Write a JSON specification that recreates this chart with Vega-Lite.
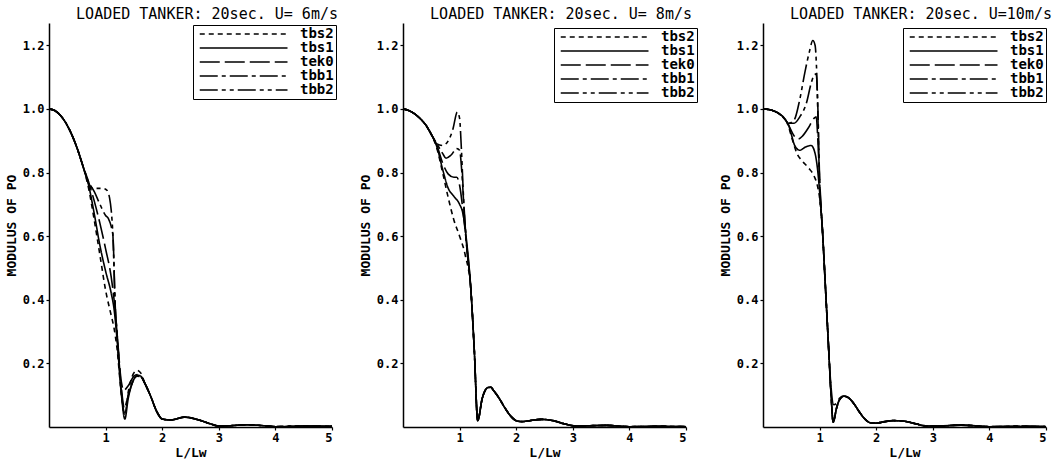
{
  "$schema": "https://vega.github.io/schema/vega-lite/v6.json",
  "background": "white",
  "padding": {"left": 5, "top": 7, "right": 0, "bottom": 0},
  "config": {
    "font": "DejaVu Sans Mono",
    "view": {"stroke": null},
    "axis": {"domainColor": "black", "domainWidth": 1.5, "tickColor": "black", "tickSize": 3, "tickWidth": 1.2, "labelFont": "DejaVu Sans Mono", "labelFontSize": 12, "labelFontWeight": "bold", "labelColor": "black", "titleFont": "DejaVu Sans Mono", "titleFontSize": 13, "titleFontWeight": "bold", "titleColor": "black", "grid": false, "labelPadding": 2},
    "title": {"font": "DejaVu Sans Mono", "fontSize": 15, "fontWeight": "normal", "color": "black", "anchor": "end", "frame": "group", "offset": 1, "dx": 6},
    "legend": {"orient": "none", "title": null, "symbolType": "M-0.5,0H19", "symbolSize": 81, "symbolStrokeWidth": 1.5, "symbolStrokeColor": "black", "symbolFillColor": "transparent", "labelFont": "DejaVu Sans Mono", "labelFontSize": 14, "labelFontWeight": "bold", "labelColor": "black", "labelOffset": 91, "rowPadding": 0, "padding": 2, "strokeColor": "black", "fillColor": "white"}
  },
  "resolve": {"scale": {"strokeDash": "independent"}, "legend": {"strokeDash": "independent"}},
  "spacing": 21,
  "data": {"values": [
    {"p":6,"s":"tbs2","x":0,"y":1.0},{"p":6,"s":"tbs2","x":0.1,"y":0.995},{"p":6,"s":"tbs2","x":0.2,"y":0.98},{"p":6,"s":"tbs2","x":0.3,"y":0.955},{"p":6,"s":"tbs2","x":0.4,"y":0.92},{"p":6,"s":"tbs2","x":0.5,"y":0.875},{"p":6,"s":"tbs2","x":0.6,"y":0.82},
    {"p":6,"s":"tbs2","x":0.7,"y":0.75},{"p":6,"s":"tbs2","x":0.8,"y":0.65},{"p":6,"s":"tbs2","x":0.9,"y":0.54},{"p":6,"s":"tbs2","x":1.0,"y":0.43},{"p":6,"s":"tbs2","x":1.1,"y":0.35},{"p":6,"s":"tbs2","x":1.15,"y":0.31},{"p":6,"s":"tbs2","x":1.2,"y":0.25},{"p":6,"s":"tbs2","x":1.28,"y":0.1},{"p":6,"s":"tbs2","x":1.34,"y":0.04},{"p":6,"s":"tbs2","x":1.4,"y":0.11},{"p":6,"s":"tbs2","x":1.5,"y":0.17},{"p":6,"s":"tbs2","x":1.56,"y":0.178},{"p":6,"s":"tbs2","x":1.62,"y":0.17},
    {"p":6,"s":"tbs2","x":1.7,"y":0.135},{"p":6,"s":"tbs2","x":1.8,"y":0.095},{"p":6,"s":"tbs2","x":1.9,"y":0.05},{"p":6,"s":"tbs2","x":2.0,"y":0.025},{"p":6,"s":"tbs2","x":2.15,"y":0.022},{"p":6,"s":"tbs2","x":2.4,"y":0.031},{"p":6,"s":"tbs2","x":2.65,"y":0.022},{"p":6,"s":"tbs2","x":2.85,"y":0.01},{"p":6,"s":"tbs2","x":3.0,"y":0.003},{"p":6,"s":"tbs2","x":3.2,"y":0.004},{"p":6,"s":"tbs2","x":3.5,"y":0.007},{"p":6,"s":"tbs2","x":3.8,"y":0.004},{"p":6,"s":"tbs2","x":4.0,"y":0.001},{"p":6,"s":"tbs2","x":4.5,"y":0.003},{"p":6,"s":"tbs2","x":5.0,"y":0.002},

    {"p":6,"s":"tbs1","x":0,"y":1.0},{"p":6,"s":"tbs1","x":0.1,"y":0.995},{"p":6,"s":"tbs1","x":0.2,"y":0.98},{"p":6,"s":"tbs1","x":0.3,"y":0.955},{"p":6,"s":"tbs1","x":0.4,"y":0.92},{"p":6,"s":"tbs1","x":0.5,"y":0.875},{"p":6,"s":"tbs1","x":0.6,"y":0.82},
    {"p":6,"s":"tbs1","x":0.7,"y":0.76},{"p":6,"s":"tbs1","x":0.8,"y":0.67},{"p":6,"s":"tbs1","x":0.9,"y":0.57},{"p":6,"s":"tbs1","x":1.0,"y":0.49},{"p":6,"s":"tbs1","x":1.1,"y":0.42},{"p":6,"s":"tbs1","x":1.15,"y":0.37},{"p":6,"s":"tbs1","x":1.2,"y":0.28},{"p":6,"s":"tbs1","x":1.28,"y":0.1},{"p":6,"s":"tbs1","x":1.34,"y":0.025},{"p":6,"s":"tbs1","x":1.4,"y":0.09},{"p":6,"s":"tbs1","x":1.5,"y":0.15},{"p":6,"s":"tbs1","x":1.56,"y":0.163},{"p":6,"s":"tbs1","x":1.62,"y":0.16},
    {"p":6,"s":"tbs1","x":1.7,"y":0.135},{"p":6,"s":"tbs1","x":1.8,"y":0.095},{"p":6,"s":"tbs1","x":1.9,"y":0.05},{"p":6,"s":"tbs1","x":2.0,"y":0.025},{"p":6,"s":"tbs1","x":2.15,"y":0.022},{"p":6,"s":"tbs1","x":2.4,"y":0.031},{"p":6,"s":"tbs1","x":2.65,"y":0.022},{"p":6,"s":"tbs1","x":2.85,"y":0.01},{"p":6,"s":"tbs1","x":3.0,"y":0.003},{"p":6,"s":"tbs1","x":3.2,"y":0.004},{"p":6,"s":"tbs1","x":3.5,"y":0.007},{"p":6,"s":"tbs1","x":3.8,"y":0.004},{"p":6,"s":"tbs1","x":4.0,"y":0.001},{"p":6,"s":"tbs1","x":4.5,"y":0.003},{"p":6,"s":"tbs1","x":5.0,"y":0.002},

    {"p":6,"s":"tek0","x":0,"y":1.0},{"p":6,"s":"tek0","x":0.1,"y":0.995},{"p":6,"s":"tek0","x":0.2,"y":0.98},{"p":6,"s":"tek0","x":0.3,"y":0.955},{"p":6,"s":"tek0","x":0.4,"y":0.92},{"p":6,"s":"tek0","x":0.5,"y":0.875},{"p":6,"s":"tek0","x":0.6,"y":0.82},
    {"p":6,"s":"tek0","x":0.7,"y":0.77},{"p":6,"s":"tek0","x":0.8,"y":0.71},{"p":6,"s":"tek0","x":0.9,"y":0.64},{"p":6,"s":"tek0","x":1.0,"y":0.56},{"p":6,"s":"tek0","x":1.1,"y":0.47},{"p":6,"s":"tek0","x":1.15,"y":0.4},{"p":6,"s":"tek0","x":1.2,"y":0.3},{"p":6,"s":"tek0","x":1.28,"y":0.14},{"p":6,"s":"tek0","x":1.32,"y":0.115},{"p":6,"s":"tek0","x":1.4,"y":0.13},{"p":6,"s":"tek0","x":1.5,"y":0.16},{"p":6,"s":"tek0","x":1.56,"y":0.165},{"p":6,"s":"tek0","x":1.62,"y":0.16},
    {"p":6,"s":"tek0","x":1.7,"y":0.135},{"p":6,"s":"tek0","x":1.8,"y":0.095},{"p":6,"s":"tek0","x":1.9,"y":0.05},{"p":6,"s":"tek0","x":2.0,"y":0.025},{"p":6,"s":"tek0","x":2.15,"y":0.022},{"p":6,"s":"tek0","x":2.4,"y":0.031},{"p":6,"s":"tek0","x":2.65,"y":0.022},{"p":6,"s":"tek0","x":2.85,"y":0.01},{"p":6,"s":"tek0","x":3.0,"y":0.003},{"p":6,"s":"tek0","x":3.2,"y":0.004},{"p":6,"s":"tek0","x":3.5,"y":0.007},{"p":6,"s":"tek0","x":3.8,"y":0.004},{"p":6,"s":"tek0","x":4.0,"y":0.001},{"p":6,"s":"tek0","x":4.5,"y":0.003},{"p":6,"s":"tek0","x":5.0,"y":0.002},

    {"p":6,"s":"tbb1","x":0,"y":1.0},{"p":6,"s":"tbb1","x":0.1,"y":0.995},{"p":6,"s":"tbb1","x":0.2,"y":0.98},{"p":6,"s":"tbb1","x":0.3,"y":0.955},{"p":6,"s":"tbb1","x":0.4,"y":0.92},{"p":6,"s":"tbb1","x":0.5,"y":0.875},{"p":6,"s":"tbb1","x":0.6,"y":0.82},
    {"p":6,"s":"tbb1","x":0.7,"y":0.77},{"p":6,"s":"tbb1","x":0.8,"y":0.74},{"p":6,"s":"tbb1","x":0.9,"y":0.7},{"p":6,"s":"tbb1","x":1.0,"y":0.665},{"p":6,"s":"tbb1","x":1.05,"y":0.655},{"p":6,"s":"tbb1","x":1.1,"y":0.63},{"p":6,"s":"tbb1","x":1.13,"y":0.6},{"p":6,"s":"tbb1","x":1.17,"y":0.38},{"p":6,"s":"tbb1","x":1.2,"y":0.3},{"p":6,"s":"tbb1","x":1.28,"y":0.12},{"p":6,"s":"tbb1","x":1.33,"y":0.06},{"p":6,"s":"tbb1","x":1.4,"y":0.1},{"p":6,"s":"tbb1","x":1.5,"y":0.15},{"p":6,"s":"tbb1","x":1.56,"y":0.16},{"p":6,"s":"tbb1","x":1.62,"y":0.158},
    {"p":6,"s":"tbb1","x":1.7,"y":0.135},{"p":6,"s":"tbb1","x":1.8,"y":0.095},{"p":6,"s":"tbb1","x":1.9,"y":0.05},{"p":6,"s":"tbb1","x":2.0,"y":0.025},{"p":6,"s":"tbb1","x":2.15,"y":0.022},{"p":6,"s":"tbb1","x":2.4,"y":0.031},{"p":6,"s":"tbb1","x":2.65,"y":0.022},{"p":6,"s":"tbb1","x":2.85,"y":0.01},{"p":6,"s":"tbb1","x":3.0,"y":0.003},{"p":6,"s":"tbb1","x":3.2,"y":0.004},{"p":6,"s":"tbb1","x":3.5,"y":0.007},{"p":6,"s":"tbb1","x":3.8,"y":0.004},{"p":6,"s":"tbb1","x":4.0,"y":0.001},{"p":6,"s":"tbb1","x":4.5,"y":0.003},{"p":6,"s":"tbb1","x":5.0,"y":0.002},

    {"p":6,"s":"tbb2","x":0,"y":1.0},{"p":6,"s":"tbb2","x":0.1,"y":0.995},{"p":6,"s":"tbb2","x":0.2,"y":0.98},{"p":6,"s":"tbb2","x":0.3,"y":0.955},{"p":6,"s":"tbb2","x":0.4,"y":0.92},{"p":6,"s":"tbb2","x":0.5,"y":0.875},{"p":6,"s":"tbb2","x":0.6,"y":0.82},
    {"p":6,"s":"tbb2","x":0.7,"y":0.765},{"p":6,"s":"tbb2","x":0.75,"y":0.752},{"p":6,"s":"tbb2","x":0.85,"y":0.75},{"p":6,"s":"tbb2","x":0.95,"y":0.75},{"p":6,"s":"tbb2","x":1.02,"y":0.745},{"p":6,"s":"tbb2","x":1.07,"y":0.72},{"p":6,"s":"tbb2","x":1.1,"y":0.68},{"p":6,"s":"tbb2","x":1.13,"y":0.6},{"p":6,"s":"tbb2","x":1.17,"y":0.38},{"p":6,"s":"tbb2","x":1.2,"y":0.3},{"p":6,"s":"tbb2","x":1.28,"y":0.11},{"p":6,"s":"tbb2","x":1.33,"y":0.04},{"p":6,"s":"tbb2","x":1.4,"y":0.1},{"p":6,"s":"tbb2","x":1.5,"y":0.15},{"p":6,"s":"tbb2","x":1.56,"y":0.162},{"p":6,"s":"tbb2","x":1.62,"y":0.158},
    {"p":6,"s":"tbb2","x":1.7,"y":0.135},{"p":6,"s":"tbb2","x":1.8,"y":0.095},{"p":6,"s":"tbb2","x":1.9,"y":0.05},{"p":6,"s":"tbb2","x":2.0,"y":0.025},{"p":6,"s":"tbb2","x":2.15,"y":0.022},{"p":6,"s":"tbb2","x":2.4,"y":0.031},{"p":6,"s":"tbb2","x":2.65,"y":0.022},{"p":6,"s":"tbb2","x":2.85,"y":0.01},{"p":6,"s":"tbb2","x":3.0,"y":0.003},{"p":6,"s":"tbb2","x":3.2,"y":0.004},{"p":6,"s":"tbb2","x":3.5,"y":0.007},{"p":6,"s":"tbb2","x":3.8,"y":0.004},{"p":6,"s":"tbb2","x":4.0,"y":0.001},{"p":6,"s":"tbb2","x":4.5,"y":0.003},{"p":6,"s":"tbb2","x":5.0,"y":0.002},

    {"p":8,"s":"tbs2","x":0,"y":1.0},{"p":8,"s":"tbs2","x":0.1,"y":0.995},{"p":8,"s":"tbs2","x":0.2,"y":0.985},{"p":8,"s":"tbs2","x":0.3,"y":0.97},{"p":8,"s":"tbs2","x":0.4,"y":0.95},{"p":8,"s":"tbs2","x":0.5,"y":0.92},
    {"p":8,"s":"tbs2","x":0.6,"y":0.875},{"p":8,"s":"tbs2","x":0.7,"y":0.8},{"p":8,"s":"tbs2","x":0.8,"y":0.72},{"p":8,"s":"tbs2","x":0.9,"y":0.65},{"p":8,"s":"tbs2","x":1.0,"y":0.6},{"p":8,"s":"tbs2","x":1.1,"y":0.54},{"p":8,"s":"tbs2","x":1.2,"y":0.43},{"p":8,"s":"tbs2","x":1.26,"y":0.24},
    {"p":8,"s":"tbs2","x":1.32,"y":0.02},{"p":8,"s":"tbs2","x":1.4,"y":0.09},{"p":8,"s":"tbs2","x":1.5,"y":0.124},{"p":8,"s":"tbs2","x":1.55,"y":0.125},{"p":8,"s":"tbs2","x":1.6,"y":0.115},{"p":8,"s":"tbs2","x":1.7,"y":0.09},{"p":8,"s":"tbs2","x":1.8,"y":0.06},{"p":8,"s":"tbs2","x":1.9,"y":0.035},{"p":8,"s":"tbs2","x":2.0,"y":0.02},{"p":8,"s":"tbs2","x":2.1,"y":0.017},{"p":8,"s":"tbs2","x":2.2,"y":0.019},{"p":8,"s":"tbs2","x":2.45,"y":0.024},{"p":8,"s":"tbs2","x":2.65,"y":0.02},{"p":8,"s":"tbs2","x":2.85,"y":0.01},{"p":8,"s":"tbs2","x":3.05,"y":0.003},{"p":8,"s":"tbs2","x":3.3,"y":0.004},{"p":8,"s":"tbs2","x":3.6,"y":0.005},{"p":8,"s":"tbs2","x":4.0,"y":0.001},{"p":8,"s":"tbs2","x":4.5,"y":0.002},{"p":8,"s":"tbs2","x":5.0,"y":0.001},

    {"p":8,"s":"tbs1","x":0,"y":1.0},{"p":8,"s":"tbs1","x":0.1,"y":0.995},{"p":8,"s":"tbs1","x":0.2,"y":0.985},{"p":8,"s":"tbs1","x":0.3,"y":0.97},{"p":8,"s":"tbs1","x":0.4,"y":0.95},{"p":8,"s":"tbs1","x":0.5,"y":0.92},
    {"p":8,"s":"tbs1","x":0.6,"y":0.88},{"p":8,"s":"tbs1","x":0.7,"y":0.81},{"p":8,"s":"tbs1","x":0.8,"y":0.75},{"p":8,"s":"tbs1","x":0.9,"y":0.725},{"p":8,"s":"tbs1","x":1.0,"y":0.7},{"p":8,"s":"tbs1","x":1.06,"y":0.67},{"p":8,"s":"tbs1","x":1.12,"y":0.59},{"p":8,"s":"tbs1","x":1.2,"y":0.43},{"p":8,"s":"tbs1","x":1.26,"y":0.24},
    {"p":8,"s":"tbs1","x":1.32,"y":0.02},{"p":8,"s":"tbs1","x":1.4,"y":0.09},{"p":8,"s":"tbs1","x":1.5,"y":0.124},{"p":8,"s":"tbs1","x":1.55,"y":0.125},{"p":8,"s":"tbs1","x":1.6,"y":0.115},{"p":8,"s":"tbs1","x":1.7,"y":0.09},{"p":8,"s":"tbs1","x":1.8,"y":0.06},{"p":8,"s":"tbs1","x":1.9,"y":0.035},{"p":8,"s":"tbs1","x":2.0,"y":0.02},{"p":8,"s":"tbs1","x":2.1,"y":0.017},{"p":8,"s":"tbs1","x":2.2,"y":0.019},{"p":8,"s":"tbs1","x":2.45,"y":0.024},{"p":8,"s":"tbs1","x":2.65,"y":0.02},{"p":8,"s":"tbs1","x":2.85,"y":0.01},{"p":8,"s":"tbs1","x":3.05,"y":0.003},{"p":8,"s":"tbs1","x":3.3,"y":0.004},{"p":8,"s":"tbs1","x":3.6,"y":0.005},{"p":8,"s":"tbs1","x":4.0,"y":0.001},{"p":8,"s":"tbs1","x":4.5,"y":0.002},{"p":8,"s":"tbs1","x":5.0,"y":0.001},

    {"p":8,"s":"tek0","x":0,"y":1.0},{"p":8,"s":"tek0","x":0.1,"y":0.995},{"p":8,"s":"tek0","x":0.2,"y":0.985},{"p":8,"s":"tek0","x":0.3,"y":0.97},{"p":8,"s":"tek0","x":0.4,"y":0.95},{"p":8,"s":"tek0","x":0.5,"y":0.92},
    {"p":8,"s":"tek0","x":0.6,"y":0.885},{"p":8,"s":"tek0","x":0.7,"y":0.83},{"p":8,"s":"tek0","x":0.8,"y":0.795},{"p":8,"s":"tek0","x":0.9,"y":0.785},{"p":8,"s":"tek0","x":0.95,"y":0.785},{"p":8,"s":"tek0","x":1.0,"y":0.76},{"p":8,"s":"tek0","x":1.06,"y":0.68},{"p":8,"s":"tek0","x":1.12,"y":0.58},{"p":8,"s":"tek0","x":1.2,"y":0.43},{"p":8,"s":"tek0","x":1.26,"y":0.24},
    {"p":8,"s":"tek0","x":1.32,"y":0.02},{"p":8,"s":"tek0","x":1.4,"y":0.09},{"p":8,"s":"tek0","x":1.5,"y":0.124},{"p":8,"s":"tek0","x":1.55,"y":0.125},{"p":8,"s":"tek0","x":1.6,"y":0.115},{"p":8,"s":"tek0","x":1.7,"y":0.09},{"p":8,"s":"tek0","x":1.8,"y":0.06},{"p":8,"s":"tek0","x":1.9,"y":0.035},{"p":8,"s":"tek0","x":2.0,"y":0.02},{"p":8,"s":"tek0","x":2.1,"y":0.017},{"p":8,"s":"tek0","x":2.2,"y":0.019},{"p":8,"s":"tek0","x":2.45,"y":0.024},{"p":8,"s":"tek0","x":2.65,"y":0.02},{"p":8,"s":"tek0","x":2.85,"y":0.01},{"p":8,"s":"tek0","x":3.05,"y":0.003},{"p":8,"s":"tek0","x":3.3,"y":0.004},{"p":8,"s":"tek0","x":3.6,"y":0.005},{"p":8,"s":"tek0","x":4.0,"y":0.001},{"p":8,"s":"tek0","x":4.5,"y":0.002},{"p":8,"s":"tek0","x":5.0,"y":0.001},

    {"p":8,"s":"tbb1","x":0,"y":1.0},{"p":8,"s":"tbb1","x":0.1,"y":0.995},{"p":8,"s":"tbb1","x":0.2,"y":0.985},{"p":8,"s":"tbb1","x":0.3,"y":0.97},{"p":8,"s":"tbb1","x":0.4,"y":0.95},{"p":8,"s":"tbb1","x":0.5,"y":0.92},
    {"p":8,"s":"tbb1","x":0.6,"y":0.89},{"p":8,"s":"tbb1","x":0.7,"y":0.86},{"p":8,"s":"tbb1","x":0.76,"y":0.845},{"p":8,"s":"tbb1","x":0.85,"y":0.855},{"p":8,"s":"tbb1","x":0.95,"y":0.875},{"p":8,"s":"tbb1","x":1.0,"y":0.87},{"p":8,"s":"tbb1","x":1.04,"y":0.8},{"p":8,"s":"tbb1","x":1.08,"y":0.68},{"p":8,"s":"tbb1","x":1.12,"y":0.58},{"p":8,"s":"tbb1","x":1.2,"y":0.43},{"p":8,"s":"tbb1","x":1.26,"y":0.24},
    {"p":8,"s":"tbb1","x":1.32,"y":0.02},{"p":8,"s":"tbb1","x":1.4,"y":0.09},{"p":8,"s":"tbb1","x":1.5,"y":0.124},{"p":8,"s":"tbb1","x":1.55,"y":0.125},{"p":8,"s":"tbb1","x":1.6,"y":0.115},{"p":8,"s":"tbb1","x":1.7,"y":0.09},{"p":8,"s":"tbb1","x":1.8,"y":0.06},{"p":8,"s":"tbb1","x":1.9,"y":0.035},{"p":8,"s":"tbb1","x":2.0,"y":0.02},{"p":8,"s":"tbb1","x":2.1,"y":0.017},{"p":8,"s":"tbb1","x":2.2,"y":0.019},{"p":8,"s":"tbb1","x":2.45,"y":0.024},{"p":8,"s":"tbb1","x":2.65,"y":0.02},{"p":8,"s":"tbb1","x":2.85,"y":0.01},{"p":8,"s":"tbb1","x":3.05,"y":0.003},{"p":8,"s":"tbb1","x":3.3,"y":0.004},{"p":8,"s":"tbb1","x":3.6,"y":0.005},{"p":8,"s":"tbb1","x":4.0,"y":0.001},{"p":8,"s":"tbb1","x":4.5,"y":0.002},{"p":8,"s":"tbb1","x":5.0,"y":0.001},

    {"p":8,"s":"tbb2","x":0,"y":1.0},{"p":8,"s":"tbb2","x":0.1,"y":0.995},{"p":8,"s":"tbb2","x":0.2,"y":0.985},{"p":8,"s":"tbb2","x":0.3,"y":0.97},{"p":8,"s":"tbb2","x":0.4,"y":0.95},{"p":8,"s":"tbb2","x":0.5,"y":0.92},
    {"p":8,"s":"tbb2","x":0.6,"y":0.89},{"p":8,"s":"tbb2","x":0.7,"y":0.885},{"p":8,"s":"tbb2","x":0.8,"y":0.9},{"p":8,"s":"tbb2","x":0.88,"y":0.935},{"p":8,"s":"tbb2","x":0.96,"y":0.99},{"p":8,"s":"tbb2","x":1.0,"y":0.97},{"p":8,"s":"tbb2","x":1.03,"y":0.88},{"p":8,"s":"tbb2","x":1.07,"y":0.72},{"p":8,"s":"tbb2","x":1.12,"y":0.58},{"p":8,"s":"tbb2","x":1.2,"y":0.43},{"p":8,"s":"tbb2","x":1.26,"y":0.24},
    {"p":8,"s":"tbb2","x":1.32,"y":0.02},{"p":8,"s":"tbb2","x":1.4,"y":0.09},{"p":8,"s":"tbb2","x":1.5,"y":0.124},{"p":8,"s":"tbb2","x":1.55,"y":0.125},{"p":8,"s":"tbb2","x":1.6,"y":0.115},{"p":8,"s":"tbb2","x":1.7,"y":0.09},{"p":8,"s":"tbb2","x":1.8,"y":0.06},{"p":8,"s":"tbb2","x":1.9,"y":0.035},{"p":8,"s":"tbb2","x":2.0,"y":0.02},{"p":8,"s":"tbb2","x":2.1,"y":0.017},{"p":8,"s":"tbb2","x":2.2,"y":0.019},{"p":8,"s":"tbb2","x":2.45,"y":0.024},{"p":8,"s":"tbb2","x":2.65,"y":0.02},{"p":8,"s":"tbb2","x":2.85,"y":0.01},{"p":8,"s":"tbb2","x":3.05,"y":0.003},{"p":8,"s":"tbb2","x":3.3,"y":0.004},{"p":8,"s":"tbb2","x":3.6,"y":0.005},{"p":8,"s":"tbb2","x":4.0,"y":0.001},{"p":8,"s":"tbb2","x":4.5,"y":0.002},{"p":8,"s":"tbb2","x":5.0,"y":0.001},

    {"p":10,"s":"tbs2","x":0,"y":1.0},{"p":10,"s":"tbs2","x":0.1,"y":0.998},{"p":10,"s":"tbs2","x":0.2,"y":0.993},{"p":10,"s":"tbs2","x":0.3,"y":0.983},{"p":10,"s":"tbs2","x":0.4,"y":0.965},
    {"p":10,"s":"tbs2","x":0.45,"y":0.945},{"p":10,"s":"tbs2","x":0.5,"y":0.915},{"p":10,"s":"tbs2","x":0.6,"y":0.86},{"p":10,"s":"tbs2","x":0.7,"y":0.835},{"p":10,"s":"tbs2","x":0.8,"y":0.815},{"p":10,"s":"tbs2","x":0.9,"y":0.79},{"p":10,"s":"tbs2","x":0.96,"y":0.76},{"p":10,"s":"tbs2","x":1.0,"y":0.72},
    {"p":10,"s":"tbs2","x":1.05,"y":0.62},{"p":10,"s":"tbs2","x":1.1,"y":0.45},{"p":10,"s":"tbs2","x":1.15,"y":0.28},{"p":10,"s":"tbs2","x":1.2,"y":0.11},{"p":10,"s":"tbs2","x":1.24,"y":0.015},{"p":10,"s":"tbs2","x":1.3,"y":0.06},{"p":10,"s":"tbs2","x":1.35,"y":0.085},{"p":10,"s":"tbs2","x":1.43,"y":0.097},{"p":10,"s":"tbs2","x":1.5,"y":0.093},{"p":10,"s":"tbs2","x":1.6,"y":0.075},{"p":10,"s":"tbs2","x":1.7,"y":0.048},{"p":10,"s":"tbs2","x":1.8,"y":0.025},{"p":10,"s":"tbs2","x":1.9,"y":0.013},{"p":10,"s":"tbs2","x":2.0,"y":0.012},{"p":10,"s":"tbs2","x":2.1,"y":0.015},{"p":10,"s":"tbs2","x":2.3,"y":0.02},{"p":10,"s":"tbs2","x":2.5,"y":0.018},{"p":10,"s":"tbs2","x":2.7,"y":0.01},{"p":10,"s":"tbs2","x":2.9,"y":0.003},{"p":10,"s":"tbs2","x":3.1,"y":0.003},{"p":10,"s":"tbs2","x":3.5,"y":0.006},{"p":10,"s":"tbs2","x":3.8,"y":0.003},{"p":10,"s":"tbs2","x":4.0,"y":0.001},{"p":10,"s":"tbs2","x":4.5,"y":0.002},{"p":10,"s":"tbs2","x":5.0,"y":0.001},

    {"p":10,"s":"tbs1","x":0,"y":1.0},{"p":10,"s":"tbs1","x":0.1,"y":0.998},{"p":10,"s":"tbs1","x":0.2,"y":0.993},{"p":10,"s":"tbs1","x":0.3,"y":0.983},{"p":10,"s":"tbs1","x":0.4,"y":0.965},
    {"p":10,"s":"tbs1","x":0.45,"y":0.95},{"p":10,"s":"tbs1","x":0.5,"y":0.92},{"p":10,"s":"tbs1","x":0.56,"y":0.885},{"p":10,"s":"tbs1","x":0.65,"y":0.87},{"p":10,"s":"tbs1","x":0.75,"y":0.88},{"p":10,"s":"tbs1","x":0.85,"y":0.885},{"p":10,"s":"tbs1","x":0.92,"y":0.86},{"p":10,"s":"tbs1","x":0.97,"y":0.8},{"p":10,"s":"tbs1","x":1.0,"y":0.74},
    {"p":10,"s":"tbs1","x":1.05,"y":0.62},{"p":10,"s":"tbs1","x":1.1,"y":0.45},{"p":10,"s":"tbs1","x":1.15,"y":0.28},{"p":10,"s":"tbs1","x":1.2,"y":0.11},{"p":10,"s":"tbs1","x":1.24,"y":0.015},{"p":10,"s":"tbs1","x":1.3,"y":0.06},{"p":10,"s":"tbs1","x":1.35,"y":0.085},{"p":10,"s":"tbs1","x":1.43,"y":0.097},{"p":10,"s":"tbs1","x":1.5,"y":0.093},{"p":10,"s":"tbs1","x":1.6,"y":0.075},{"p":10,"s":"tbs1","x":1.7,"y":0.048},{"p":10,"s":"tbs1","x":1.8,"y":0.025},{"p":10,"s":"tbs1","x":1.9,"y":0.013},{"p":10,"s":"tbs1","x":2.0,"y":0.012},{"p":10,"s":"tbs1","x":2.1,"y":0.015},{"p":10,"s":"tbs1","x":2.3,"y":0.02},{"p":10,"s":"tbs1","x":2.5,"y":0.018},{"p":10,"s":"tbs1","x":2.7,"y":0.01},{"p":10,"s":"tbs1","x":2.9,"y":0.003},{"p":10,"s":"tbs1","x":3.1,"y":0.003},{"p":10,"s":"tbs1","x":3.5,"y":0.006},{"p":10,"s":"tbs1","x":3.8,"y":0.003},{"p":10,"s":"tbs1","x":4.0,"y":0.001},{"p":10,"s":"tbs1","x":4.5,"y":0.002},{"p":10,"s":"tbs1","x":5.0,"y":0.001},

    {"p":10,"s":"tek0","x":0,"y":1.0},{"p":10,"s":"tek0","x":0.1,"y":0.998},{"p":10,"s":"tek0","x":0.2,"y":0.993},{"p":10,"s":"tek0","x":0.3,"y":0.983},{"p":10,"s":"tek0","x":0.4,"y":0.965},
    {"p":10,"s":"tek0","x":0.45,"y":0.95},{"p":10,"s":"tek0","x":0.55,"y":0.915},{"p":10,"s":"tek0","x":0.62,"y":0.905},{"p":10,"s":"tek0","x":0.7,"y":0.915},{"p":10,"s":"tek0","x":0.8,"y":0.94},{"p":10,"s":"tek0","x":0.9,"y":0.97},{"p":10,"s":"tek0","x":0.94,"y":0.975},{"p":10,"s":"tek0","x":0.97,"y":0.9},{"p":10,"s":"tek0","x":1.0,"y":0.78},
    {"p":10,"s":"tek0","x":1.05,"y":0.62},{"p":10,"s":"tek0","x":1.1,"y":0.45},{"p":10,"s":"tek0","x":1.15,"y":0.28},{"p":10,"s":"tek0","x":1.2,"y":0.13},{"p":10,"s":"tek0","x":1.25,"y":0.07},{"p":10,"s":"tek0","x":1.3,"y":0.075},{"p":10,"s":"tek0","x":1.35,"y":0.09},{"p":10,"s":"tek0","x":1.43,"y":0.097},{"p":10,"s":"tek0","x":1.5,"y":0.093},{"p":10,"s":"tek0","x":1.6,"y":0.075},{"p":10,"s":"tek0","x":1.7,"y":0.048},{"p":10,"s":"tek0","x":1.8,"y":0.025},{"p":10,"s":"tek0","x":1.9,"y":0.013},{"p":10,"s":"tek0","x":2.0,"y":0.012},{"p":10,"s":"tek0","x":2.1,"y":0.015},{"p":10,"s":"tek0","x":2.3,"y":0.02},{"p":10,"s":"tek0","x":2.5,"y":0.018},{"p":10,"s":"tek0","x":2.7,"y":0.01},{"p":10,"s":"tek0","x":2.9,"y":0.003},{"p":10,"s":"tek0","x":3.1,"y":0.003},{"p":10,"s":"tek0","x":3.5,"y":0.006},{"p":10,"s":"tek0","x":3.8,"y":0.003},{"p":10,"s":"tek0","x":4.0,"y":0.001},{"p":10,"s":"tek0","x":4.5,"y":0.002},{"p":10,"s":"tek0","x":5.0,"y":0.001},

    {"p":10,"s":"tbb1","x":0,"y":1.0},{"p":10,"s":"tbb1","x":0.1,"y":0.998},{"p":10,"s":"tbb1","x":0.2,"y":0.993},{"p":10,"s":"tbb1","x":0.3,"y":0.983},{"p":10,"s":"tbb1","x":0.4,"y":0.965},
    {"p":10,"s":"tbb1","x":0.45,"y":0.955},{"p":10,"s":"tbb1","x":0.55,"y":0.955},{"p":10,"s":"tbb1","x":0.65,"y":0.975},{"p":10,"s":"tbb1","x":0.77,"y":1.02},{"p":10,"s":"tbb1","x":0.85,"y":1.08},{"p":10,"s":"tbb1","x":0.9,"y":1.105},{"p":10,"s":"tbb1","x":0.94,"y":1.11},{"p":10,"s":"tbb1","x":0.97,"y":1.0},{"p":10,"s":"tbb1","x":1.0,"y":0.78},
    {"p":10,"s":"tbb1","x":1.05,"y":0.62},{"p":10,"s":"tbb1","x":1.1,"y":0.45},{"p":10,"s":"tbb1","x":1.15,"y":0.28},{"p":10,"s":"tbb1","x":1.2,"y":0.11},{"p":10,"s":"tbb1","x":1.24,"y":0.015},{"p":10,"s":"tbb1","x":1.3,"y":0.06},{"p":10,"s":"tbb1","x":1.35,"y":0.085},{"p":10,"s":"tbb1","x":1.43,"y":0.097},{"p":10,"s":"tbb1","x":1.5,"y":0.093},{"p":10,"s":"tbb1","x":1.6,"y":0.075},{"p":10,"s":"tbb1","x":1.7,"y":0.048},{"p":10,"s":"tbb1","x":1.8,"y":0.025},{"p":10,"s":"tbb1","x":1.9,"y":0.013},{"p":10,"s":"tbb1","x":2.0,"y":0.012},{"p":10,"s":"tbb1","x":2.1,"y":0.015},{"p":10,"s":"tbb1","x":2.3,"y":0.02},{"p":10,"s":"tbb1","x":2.5,"y":0.018},{"p":10,"s":"tbb1","x":2.7,"y":0.01},{"p":10,"s":"tbb1","x":2.9,"y":0.003},{"p":10,"s":"tbb1","x":3.1,"y":0.003},{"p":10,"s":"tbb1","x":3.5,"y":0.006},{"p":10,"s":"tbb1","x":3.8,"y":0.003},{"p":10,"s":"tbb1","x":4.0,"y":0.001},{"p":10,"s":"tbb1","x":4.5,"y":0.002},{"p":10,"s":"tbb1","x":5.0,"y":0.001},

    {"p":10,"s":"tbb2","x":0,"y":1.0},{"p":10,"s":"tbb2","x":0.1,"y":0.998},{"p":10,"s":"tbb2","x":0.2,"y":0.993},{"p":10,"s":"tbb2","x":0.3,"y":0.983},{"p":10,"s":"tbb2","x":0.4,"y":0.965},
    {"p":10,"s":"tbb2","x":0.45,"y":0.955},{"p":10,"s":"tbb2","x":0.55,"y":0.965},{"p":10,"s":"tbb2","x":0.65,"y":1.03},{"p":10,"s":"tbb2","x":0.74,"y":1.115},{"p":10,"s":"tbb2","x":0.82,"y":1.18},{"p":10,"s":"tbb2","x":0.88,"y":1.215},{"p":10,"s":"tbb2","x":0.92,"y":1.2},{"p":10,"s":"tbb2","x":0.95,"y":1.11},{"p":10,"s":"tbb2","x":0.98,"y":0.9},{"p":10,"s":"tbb2","x":1.0,"y":0.76},
    {"p":10,"s":"tbb2","x":1.05,"y":0.62},{"p":10,"s":"tbb2","x":1.1,"y":0.45},{"p":10,"s":"tbb2","x":1.15,"y":0.28},{"p":10,"s":"tbb2","x":1.2,"y":0.11},{"p":10,"s":"tbb2","x":1.24,"y":0.015},{"p":10,"s":"tbb2","x":1.3,"y":0.06},{"p":10,"s":"tbb2","x":1.35,"y":0.085},{"p":10,"s":"tbb2","x":1.43,"y":0.097},{"p":10,"s":"tbb2","x":1.5,"y":0.093},{"p":10,"s":"tbb2","x":1.6,"y":0.075},{"p":10,"s":"tbb2","x":1.7,"y":0.048},{"p":10,"s":"tbb2","x":1.8,"y":0.025},{"p":10,"s":"tbb2","x":1.9,"y":0.013},{"p":10,"s":"tbb2","x":2.0,"y":0.012},{"p":10,"s":"tbb2","x":2.1,"y":0.015},{"p":10,"s":"tbb2","x":2.3,"y":0.02},{"p":10,"s":"tbb2","x":2.5,"y":0.018},{"p":10,"s":"tbb2","x":2.7,"y":0.01},{"p":10,"s":"tbb2","x":2.9,"y":0.003},{"p":10,"s":"tbb2","x":3.1,"y":0.003},{"p":10,"s":"tbb2","x":3.5,"y":0.006},{"p":10,"s":"tbb2","x":3.8,"y":0.003},{"p":10,"s":"tbb2","x":4.0,"y":0.001},{"p":10,"s":"tbb2","x":4.5,"y":0.002},{"p":10,"s":"tbb2","x":5.0,"y":0.001}
  ]},
  "hconcat": [
    {
      "width": 283, "height": 404,
      "title": {"text": "LOADED TANKER: 20sec. U= 6m/s"},
      "transform": [{"filter": "datum.p == 6"}],
      "mark": {"type": "line", "interpolate": "monotone", "color": "black", "strokeWidth": 1.6},
      "encoding": {
        "x": {"field": "x", "type": "quantitative", "scale": {"domain": [0, 5], "nice": false}, "axis": {"title": "L/Lw", "values": [1, 2, 3, 4, 5], "format": "d", "titlePadding": 3}},
        "y": {"field": "y", "type": "quantitative", "scale": {"domain": [0, 1.27], "nice": false}, "axis": {"title": "MODULUS OF PO", "values": [0.2, 0.4, 0.6, 0.8, 1.0, 1.2], "format": ".1f", "titlePadding": 4}},
        "strokeDash": {"field": "s", "type": "nominal", "scale": {"domain": ["tbs2", "tbs1", "tek0", "tbb1", "tbb2"], "range": [[5, 4], [1, 0], [20, 5], [18, 4, 4, 4], [18, 4, 4, 4, 4, 4]]}, "legend": {"legendX": 144, "legendY": 2}}
      }
    },
    {
      "width": 283, "height": 404,
      "title": {"text": "LOADED TANKER: 20sec. U= 8m/s"},
      "transform": [{"filter": "datum.p == 8"}],
      "mark": {"type": "line", "interpolate": "monotone", "color": "black", "strokeWidth": 1.6},
      "encoding": {
        "x": {"field": "x", "type": "quantitative", "scale": {"domain": [0, 5], "nice": false}, "axis": {"title": "L/Lw", "values": [1, 2, 3, 4, 5], "format": "d", "titlePadding": 3}},
        "y": {"field": "y", "type": "quantitative", "scale": {"domain": [0, 1.27], "nice": false}, "axis": {"title": "MODULUS OF PO", "values": [0.2, 0.4, 0.6, 0.8, 1.0, 1.2], "format": ".1f", "titlePadding": 4}},
        "strokeDash": {"field": "s", "type": "nominal", "scale": {"domain": ["tbs2", "tbs1", "tek0", "tbb1", "tbb2"], "range": [[5, 4], [1, 0], [20, 5], [18, 4, 4, 4], [18, 4, 4, 4, 4, 4]]}, "legend": {"legendX": 151, "legendY": 5}}
      }
    },
    {
      "width": 283, "height": 404,
      "title": {"text": "LOADED TANKER: 20sec. U=10m/s"},
      "transform": [{"filter": "datum.p == 10"}],
      "mark": {"type": "line", "interpolate": "monotone", "color": "black", "strokeWidth": 1.6},
      "encoding": {
        "x": {"field": "x", "type": "quantitative", "scale": {"domain": [0, 5], "nice": false}, "axis": {"title": "L/Lw", "values": [1, 2, 3, 4, 5], "format": "d", "titlePadding": 3}},
        "y": {"field": "y", "type": "quantitative", "scale": {"domain": [0, 1.27], "nice": false}, "axis": {"title": "MODULUS OF PO", "values": [0.2, 0.4, 0.6, 0.8, 1.0, 1.2], "format": ".1f", "titlePadding": 4}},
        "strokeDash": {"field": "s", "type": "nominal", "scale": {"domain": ["tbs2", "tbs1", "tek0", "tbb1", "tbb2"], "range": [[5, 4], [1, 0], [20, 5], [18, 4, 4, 4], [18, 4, 4, 4, 4, 4]]}, "legend": {"legendX": 140, "legendY": 5}}
      }
    }
  ]
}
